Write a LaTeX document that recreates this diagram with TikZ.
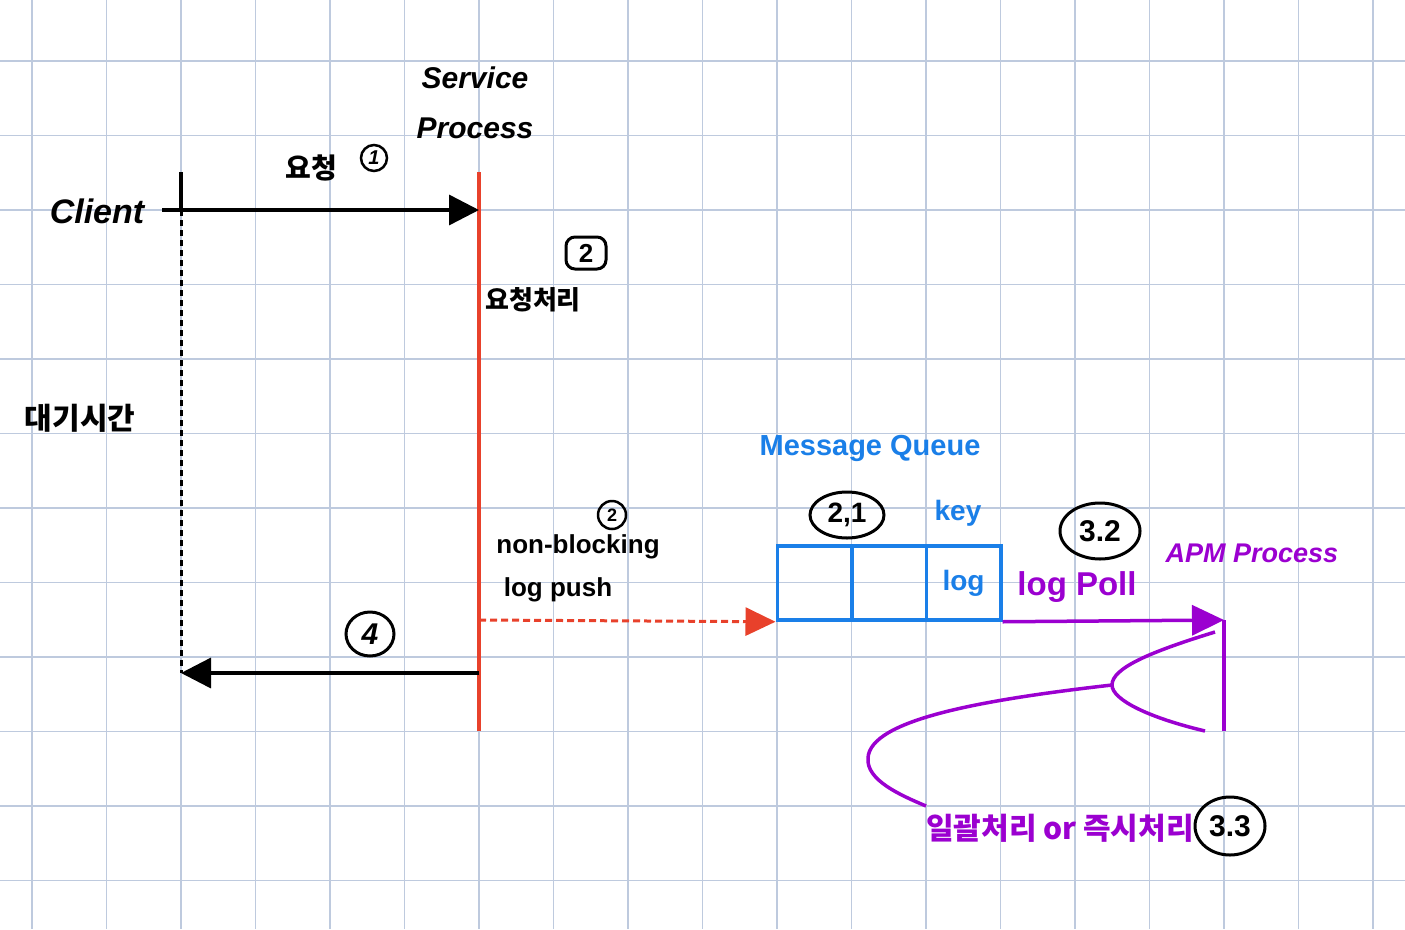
\documentclass[tikz,border=0pt]{standalone}
\usepackage{fontspec}
\setmainfont{Liberation Sans}
\newfontfamily\kr{Noto Sans CJK KR}
\usetikzlibrary{arrows.meta,shapes.geometric}
\definecolor{gridc}{RGB}{190,202,222}
\definecolor{redc}{RGB}{232,65,43}
\definecolor{bluec}{RGB}{26,127,232}
\definecolor{purc}{RGB}{155,0,208}
\tikzset{
  lbl/.style={font=\bfseries\fontsize{26}{28}\selectfont, inner sep=0pt},
  klbl/.style={font=\kr\bfseries\fontsize{28}{30}\selectfont, inner sep=0pt},
  circnum/.style={draw=black, line width=3pt, ellipse, inner sep=0pt, font=\bfseries\fontsize{26}{28}\selectfont},
  bigtip/.style={-{Triangle[length=30pt,width=30pt]}},
  qbox/.style={draw=bluec, line width=3.5pt, minimum width=74.5pt, minimum height=74pt, inner sep=0pt},
}
\begin{document}
\begin{tikzpicture}[x=1pt,y=-1pt]
\useasboundingbox (0,0) rectangle (1405,929);
\fill[white] (0,0) rectangle (1405,929);
% grid
\foreach \gx in {32,106.5,...,1400} \draw[gridc, line width=1.3pt] (\gx,0) -- (\gx,929);
\foreach \gy in {61,135.5,...,929} \draw[gridc, line width=1.3pt] (0,\gy) -- (1405,\gy);

% client
\node[lbl, font=\bfseries\itshape\fontsize{34}{36}\selectfont] (client) at (97,211) {Client};
\coordinate (cTop) at (181,172);
\coordinate (cMid) at (181,210);
\coordinate (cBot) at (181,673);
\coordinate (aStart) at (162,210);
\draw[line width=3.5pt] (cTop) -- (cMid);
\draw[line width=3pt, dash pattern=on 6pt off 4pt] (cMid) -- (cBot);

% service process
\node[lbl, font=\bfseries\itshape\fontsize{30}{33}\selectfont] (svc1) at (475,78) {Service};
\node[lbl, font=\bfseries\itshape\fontsize{30}{33}\selectfont] (svc2) at (475,128) {Process};
\coordinate (sTop) at (479,172);
\coordinate (sArr) at (479,210);
\coordinate (sPush) at (479,620);
\coordinate (sRet) at (479,673);
\coordinate (sBot) at (479,731);
\draw[redc, line width=3.5pt] (sTop) -- (sBot);

% request arrow
\draw[line width=3.5pt, bigtip] (aStart) -- (sArr);
\node[klbl] (req) at (311,168) {요청};
\node[circnum, circle, minimum size=26pt, line width=2.5pt, font=\bfseries\itshape\fontsize{20}{22}\selectfont] (n1) at (374,158) {1};

% processing
\node[draw=black, line width=3pt, rounded corners=9pt, minimum width=40pt, minimum height=32pt, inner sep=0pt, font=\bfseries\fontsize{26}{28}\selectfont] (n2) at (586,253) {2};
\node[klbl, font=\kr\bfseries\fontsize{26}{28}\selectfont] (proc) at (533,300) {요청처리};

\node[klbl, font=\kr\bfseries\fontsize{30}{32}\selectfont] (wait) at (80,418) {대기시간};

% return arrow
\draw[line width=3.5pt, bigtip] (sRet) -- (cBot);
\node[circnum, minimum width=48pt, minimum height=44pt, font=\bfseries\itshape\fontsize{30}{32}\selectfont] (n4) at (370,634) {4};

% non-blocking log push
\node[circnum, circle, minimum size=28pt, line width=2.5pt, font=\bfseries\fontsize{18}{20}\selectfont] (n3) at (612,515) {2};
\node[lbl, font=\bfseries\fontsize{26}{28}\selectfont] (nb) at (578,547) {non-blocking};
\node[lbl, font=\bfseries\fontsize{26}{28}\selectfont] (lp) at (558,590) {log push};

% message queue
\node[lbl, text=bluec, font=\bfseries\fontsize{29}{31}\selectfont] (mq) at (870,448) {Message Queue};
\node[qbox] (q1) at (814.5,583) {};
\node[qbox] (q2) at (889,583) {};
\node[qbox, text=bluec, font=\bfseries\fontsize{28}{30}\selectfont] (q3) at (963.5,583) {log};
\node[lbl, text=bluec, font=\bfseries\fontsize{28}{30}\selectfont] (key) at (958,513) {key};
\node[circnum, minimum width=74pt, minimum height=46pt, font=\bfseries\fontsize{28}{30}\selectfont] (n21) at (847,515) {2,1};
\draw[redc, line width=3pt, dash pattern=on 7pt off 4pt, -{Triangle[length=30pt,width=28pt]}] (sPush) -- (q1.south west);

% APM
\node[circnum, minimum width=80pt, minimum height=56pt, font=\bfseries\fontsize{30}{32}\selectfont] (n32) at (1100,531) {3.2};
\node[lbl, text=purc, font=\bfseries\fontsize{33}{35}\selectfont] (poll) at (1077,587) {log Poll};
\node[lbl, text=purc, font=\bfseries\itshape\fontsize{27}{30}\selectfont] (apmlbl) at (1252,553) {APM Process};
\coordinate (apmTop) at (1224,620);
\coordinate (apmBot) at (1224,731);
\draw[purc, line width=3.5pt, -{Triangle[length=32pt,width=30pt]}] (q3.south east) -- (apmTop);
\draw[purc, line width=3.5pt] (apmTop) -- (apmBot);

% fork curve
\coordinate (vx) at (1112,685);
\draw[purc, line width=3.5pt] (1215,632) .. controls (1150,652) and (1112,668) .. (vx)
  .. controls (1112,700) and (1150,718) .. (1205,731);
\draw[purc, line width=3.5pt] (vx) .. controls (980,700) and (870,720) .. (868,758)
  .. controls (866,780) and (900,795) .. (926,806);

\node[klbl, text=purc, font=\kr\bfseries\fontsize{30}{32}\selectfont] (batch) at (1060,828) {일괄처리 or 즉시처리};
\node[circnum, minimum width=70pt, minimum height=58pt, font=\bfseries\fontsize{30}{32}\selectfont] (n33) at (1230,826) {3.3};
\end{tikzpicture}
\end{document}
